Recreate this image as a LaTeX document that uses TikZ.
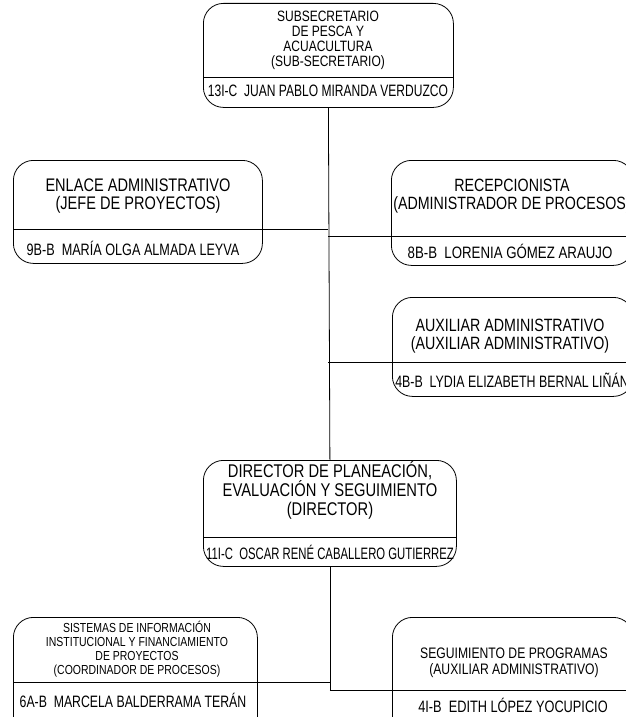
\documentclass[tikz,border=0pt]{standalone}
\usepackage{fontspec}
\setmainfont{Liberation Sans}
\newfontfamily\angosta[FakeStretch=0.8]{Liberation Sans}
\newfontfamily\masangosta[FakeStretch=0.73]{Liberation Sans}
\newcommand\ancho[2]{\scalebox{#1}[1]{#2}}
\usetikzlibrary{positioning}

\begin{document}
\begin{tikzpicture}[x=1pt,y=-1pt,line width=0.8pt,
  caja/.style={draw, rounded corners=20pt, anchor=north west, inner sep=0pt},
  puesto/.style={align=center, inner sep=0pt},
  nombre/.style={font=\masangosta\fontsize{16.5}{16.5}\selectfont, inner sep=0pt}]
\useasboundingbox (0,0) rectangle (626,717);
\clip (0,0) rectangle (626,717);

% boxes
\node[caja, minimum width=250pt, minimum height=104pt] (sub) at (203,3) {};
\draw (203,77) -- (453,77);
\node[caja, minimum width=249pt, minimum height=103pt] (enlace) at (13,160) {};
\draw (13,229) -- (262,229);
\node[caja, minimum width=242pt, minimum height=105pt] (recep) at (391,160) {};
\draw (391,236) -- (633,236);
\node[caja, minimum width=241pt, minimum height=99pt] (aux) at (392,297) {};
\draw (392,362) -- (633,362);
\node[caja, minimum width=253pt, minimum height=106pt] (dir) at (203,460) {};
\draw (203,537) -- (456,537);
\node[caja, minimum width=244pt, minimum height=120pt] (sis) at (13,617) {};
\draw (13,682) -- (257,682);
\node[caja, minimum width=241pt, minimum height=120pt] (seg) at (392,617) {};
\draw (392,690) -- (633,690);

% titles
\node[puesto, font=\angosta\fontsize{15}{15}\selectfont] (sub-p) at (328,40)
  {SUBSECRETARIO\\DE PESCA Y\\ACUACULTURA\\(SUB-SECRETARIO)};
\node[puesto, font=\angosta\fontsize{18.2}{18}\selectfont] (enlace-p) at (138,196)
  {ENLACE ADMINISTRATIVO\\(JEFE DE PROYECTOS)};
\node[puesto, font=\angosta\fontsize{17.8}{18}\selectfont] (recep-p) at (512,196)
  {RECEPCIONISTA\\(ADMINISTRADOR DE PROCESOS)};
\node[puesto, font=\angosta\fontsize{17.8}{18}\selectfont] (aux-p) at (510,336)
  {AUXILIAR ADMINISTRATIVO\\(AUXILIAR ADMINISTRATIVO)};
\node[puesto, font=\angosta\fontsize{18.4}{19}\selectfont] (dir-p) at (330,490)
  {DIRECTOR DE PLANEACIÓN,\\EVALUACIÓN Y SEGUIMIENTO\\(DIRECTOR)};
\node[puesto, font=\angosta\fontsize{13.1}{14}\selectfont] (sis-p) at (137,649)
  {SISTEMAS DE INFORMACIÓN\\INSTITUCIONAL Y FINANCIAMIENTO\\DE PROYECTOS\\(COORDINADOR DE PROCESOS)};
\node[puesto, font=\angosta\fontsize{15.2}{16}\selectfont] (seg-p) at (514,663)
  {SEGUIMIENTO DE PROGRAMAS\\(AUXILIAR ADMINISTRATIVO)};

% names
\node[nombre] (sub-n) at (328,91) {13I-C\ \ JUAN PABLO MIRANDA VERDUZCO};
\node[nombre] (enlace-n) at (133,248) {\ancho{1.05}{9B-B\ \ MARÍA OLGA ALMADA LEYVA}};
\node[nombre] (recep-n) at (510,251) {\ancho{1.1}{8B-B\ \ LORENIA GÓMEZ ARAUJO}};
\node[nombre] (aux-n) at (512,380) {\ancho{1.03}{4B-B\ \ LYDIA ELIZABETH BERNAL LIÑÁN}};
\node[nombre] (dir-n) at (330,552) {\ancho{0.94}{11I-C\ \ OSCAR RENÉ CABALLERO GUTIERREZ}};
\node[nombre] (sis-n) at (133,700) {\ancho{1.02}{6A-B\ \ MARCELA BALDERRAMA TERÁN}};
\node[nombre] (seg-n) at (513,705) {\ancho{1.06}{4I-B\ \ EDITH LÓPEZ YOCUPICIO}};

% lines
\coordinate (t1) at (sub.south |- 0,229);
\coordinate (t2) at (sub.south |- 0,236);
\coordinate (t3) at (sub.south |- 0,362);
\coordinate (t4) at (dir.south |- 0,682);
\coordinate (t5) at (dir.south |- 0,690);
\draw (sub.south) -- (dir.north);
\draw (enlace.east |- t1) -- (t1);
\draw (t2) -- (recep.west |- t2);
\draw (t3) -- (aux.west |- t3);
\draw (dir.south) -- (t5);
\draw (sis.east |- t4) -- (t4);
\draw (t5) -- (seg.west |- t5);
\end{tikzpicture}
\end{document}
